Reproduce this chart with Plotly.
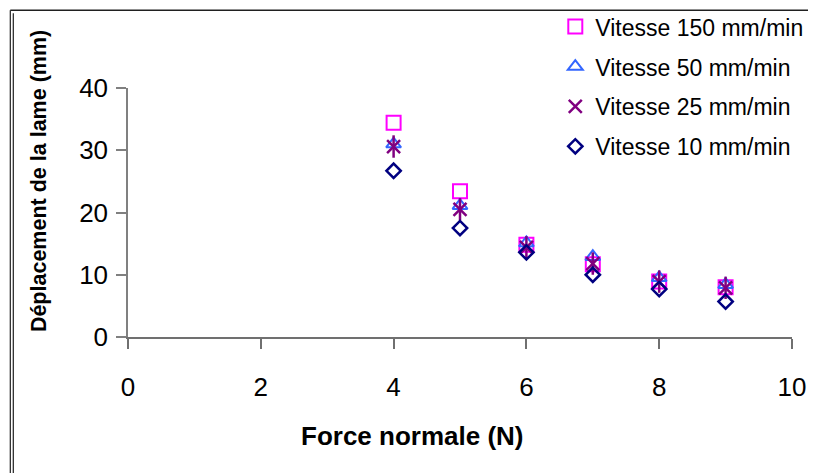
import plotly.graph_objects as go

force = [4, 5, 6, 7, 8, 9]
v150 = [34.4, 23.4, 14.8, 11.7, 8.9, 8.0]
v50 = [31.0, 21.1, 15.1, 12.9, 9.5, 8.4]
v25 = [30.6, 20.5, 14.4, 11.8, 8.9, 7.9]
v10 = [26.7, 17.5, 13.6, 10.0, 7.7, 5.7]
names = ["Vitesse 150 mm/min", "Vitesse 50 mm/min", "Vitesse 25 mm/min", "Vitesse 10 mm/min"]
x_ticks = [0, 2, 4, 6, 8, 10]
y_ticks = [0, 10, 20, 30, 40]

FONT = "Liberation Sans, Arial, sans-serif"

fig = go.Figure()
fig.add_trace(go.Scatter(x=force, y=v150, mode="markers", name=names[0], legendgroup="a",
                         marker=dict(symbol="square-open", size=14, color="#FF00FF", line=dict(width=2, color="#FF00FF"))))
fig.add_trace(go.Scatter(x=force, y=v50, mode="markers", name=names[1], legendgroup="b",
                         marker=dict(symbol="triangle-up-open", size=13, color="#3366FF", line=dict(width=2, color="#3366FF"))))
fig.add_trace(go.Scatter(x=force, y=v25, mode="markers", name=names[2], legendgroup="c",
                         marker=dict(symbol="x-thin-open", size=13, color="#800080", line=dict(width=2.5, color="#800080"))))
fig.add_trace(go.Scatter(x=force, y=v25, mode="markers", name=names[2], legendgroup="c", showlegend=False,
                         marker=dict(symbol="line-ns-open", size=16, color="#800080", line=dict(width=2.5, color="#800080"))))
fig.add_trace(go.Scatter(x=force, y=v10, mode="markers", name=names[3], legendgroup="d",
                         marker=dict(symbol="diamond-open", size=11, color="#000080", line=dict(width=2.5, color="#000080"))))

# target plot-area edges in screen pixels (page has an 8px body margin)
OFF = 8
L, R, T, B = 127.7, 791.7, 88.0, 337.5
W, H = 816 - OFF, 473 - OFF
pw, ph = R - L, B - T

def px(x):
    return (x - L) / pw

def py(y):
    return (B - y) / ph

fig.update_layout(
    width=W, height=H,
    margin=dict(l=L - OFF, r=816 - R, t=T - OFF, b=473 - B, pad=0, autoexpand=False),
    paper_bgcolor="white", plot_bgcolor="white",
    font=dict(family=FONT, color="black", size=22),
    showlegend=True,
    legend=dict(x=px(555), y=py(5), xanchor="left", yanchor="top",
                font=dict(family=FONT, size=23, color="black"),
                tracegroupgap=7, bgcolor="rgba(0,0,0,0)", itemsizing="trace"),
    xaxis=dict(range=[0, 10], tickvals=x_ticks, ticktext=[str(v) for v in x_ticks],
               showgrid=False, zeroline=False, showline=True, linecolor="#707070", linewidth=1.5,
               ticks="outside", ticklen=10, tickcolor="#707070", tickwidth=1.5,
               tickfont=dict(family=FONT, size=26, color="black"), ticklabelstandoff=16,
               fixedrange=True, automargin=False),
    yaxis=dict(range=[0, 40], tickvals=y_ticks, ticktext=[str(v) for v in y_ticks],
               showgrid=False, zeroline=False, showline=True, linecolor="#808080", linewidth=1.5,
               ticks="outside", ticklen=10, tickcolor="#808080", tickwidth=1.5,
               tickfont=dict(family=FONT, size=26, color="black"), ticklabelstandoff=3,
               fixedrange=True, automargin=False),
    annotations=[
        dict(text="<b>Force normale (N)</b>", xref="paper", yref="paper", x=px(412), y=py(437),
             xanchor="center", yanchor="middle", showarrow=False,
             font=dict(family=FONT, size=26, color="black")),
        dict(text="<b>Déplacement de la lame (mm)</b>", xref="paper", yref="paper", x=px(39), y=py(181),
             xanchor="center", yanchor="middle", showarrow=False, textangle=-90,
             font=dict(family=FONT, size=21.5, color="black")),
    ],
    shapes=[
        dict(type="line", xref="paper", yref="paper", x0=px(10), x1=px(820), y0=py(10), y1=py(10),
             line=dict(color="#202020", width=1.5)),
        dict(type="line", xref="paper", yref="paper", x0=px(10), x1=px(10), y0=py(10), y1=py(480),
             line=dict(color="#202020", width=1.2)),
        dict(type="line", xref="paper", yref="paper", x0=px(13), x1=px(13), y0=py(13), y1=py(480),
             line=dict(color="#202020", width=1.2)),
    ],
)

fig.write_html("out.html")
